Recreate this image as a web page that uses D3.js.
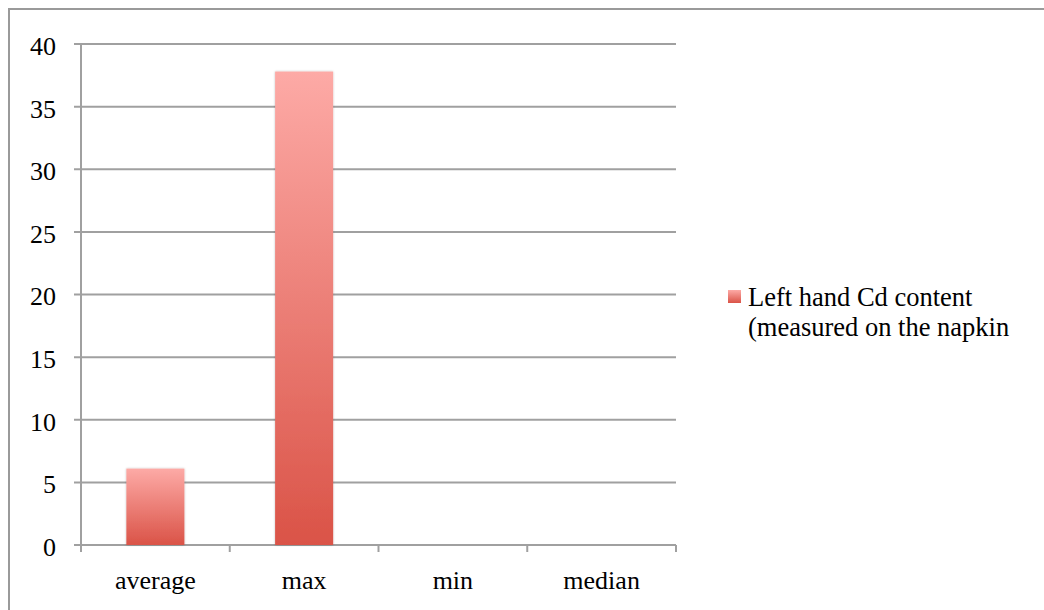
<!DOCTYPE html>
<html>
<head>
<meta charset="utf-8">
<script src="https://cdn.jsdelivr.net/npm/d3@7"></script>
<style>
  html, body { margin: 0; padding: 0; background: #ffffff; }
  svg { display: block; }
  text { font-family: "Liberation Serif", "Times New Roman", serif; fill: #000; }
</style>
</head>
<body>
<svg id="chart" width="1044" height="610"></svg>
<script>
// Cadmium content summary statistics
const categories = ["average", "max", "min", "median"];
const values = [6.1, 37.8, 0, 0];
const yTicks = [0, 5, 10, 15, 20, 25, 30, 35, 40];
const seriesName = ["Left hand Cd content", "(measured on the napkin"];

const svg = d3.select("#chart");

const margin = { left: 81, right: 676, top: 44, bottom: 545 };

const x = d3.scaleBand()
  .domain(categories)
  .range([margin.left, margin.right])
  .paddingInner(0.61)
  .paddingOuter(0.305);

const y = d3.scaleLinear()
  .domain([0, 40])
  .range([margin.bottom, margin.top]);

// Frame around the chart area
svg.append("path")
  .attr("d", "M9,610 L9,9 L1044,9")
  .attr("fill", "none")
  .attr("stroke", "#9a9a9a")
  .attr("stroke-width", 2);

// Bar fill: light pink at the top fading into a deeper red at the bottom
const defs = svg.append("defs");
const grad = defs.append("linearGradient")
  .attr("id", "barFill")
  .attr("x1", 0).attr("y1", 0).attr("x2", 0).attr("y2", 1);
grad.append("stop").attr("offset", "0%").attr("stop-color", "#fdaaa6");
grad.append("stop").attr("offset", "100%").attr("stop-color", "#da5347");

const shadow = defs.append("filter").attr("id", "soft")
  .attr("x", "-10%").attr("y", "-10%").attr("width", "120%").attr("height", "120%");
shadow.append("feGaussianBlur").attr("in", "SourceAlpha").attr("stdDeviation", 1.2).attr("result", "b");
shadow.append("feComponentTransfer").attr("in", "b").attr("result", "s")
  .append("feFuncA").attr("type", "linear").attr("slope", 0.25);
const merge = shadow.append("feMerge");
merge.append("feMergeNode").attr("in", "s");
merge.append("feMergeNode").attr("in", "SourceGraphic");

// Horizontal gridlines (with left tick marks)
svg.append("g")
  .selectAll("line")
  .data(yTicks)
  .join("line")
  .attr("x1", margin.left - 7)
  .attr("x2", margin.right)
  .attr("y1", d => y(d))
  .attr("y2", d => y(d))
  .attr("stroke", "#a0a0a0")
  .attr("stroke-width", 2);

// Y axis line
svg.append("line")
  .attr("x1", margin.left).attr("x2", margin.left)
  .attr("y1", y(40)).attr("y2", y(0))
  .attr("stroke", "#a0a0a0").attr("stroke-width", 2);

// Category tick marks at band boundaries
const bounds = categories.map(c => x(c) - x.step() * x.paddingInner() / 2);
bounds.push(margin.right);
bounds[0] = margin.left;
svg.append("g")
  .selectAll("line")
  .data(bounds)
  .join("line")
  .attr("x1", d => d).attr("x2", d => d)
  .attr("y1", y(0)).attr("y2", y(0) + 7)
  .attr("stroke", "#a0a0a0").attr("stroke-width", 2);

// Y tick labels
svg.append("g")
  .selectAll("text")
  .data(yTicks)
  .join("text")
  .attr("x", 56)
  .attr("y", d => y(d))
  .attr("dy", "0.42em")
  .attr("text-anchor", "end")
  .attr("font-size", 26)
  .text(d => d);

// Bars
svg.append("g")
  .selectAll("rect")
  .data(categories.map((c, i) => ({ c, v: values[i] })).filter(d => d.v > 0))
  .join("rect")
  .attr("x", d => x(d.c))
  .attr("width", x.bandwidth())
  .attr("y", d => y(d.v))
  .attr("height", d => y(0) - y(d.v))
  .attr("fill", "url(#barFill)")
  .attr("filter", "url(#soft)");

// Category labels
svg.append("g")
  .selectAll("text")
  .data(categories)
  .join("text")
  .attr("x", d => x(d) + x.bandwidth() / 2)
  .attr("y", 589)
  .attr("text-anchor", "middle")
  .attr("font-size", 26)
  .text(d => d);

// Legend
const legend = svg.append("g");
legend.append("rect")
  .attr("x", 728).attr("y", 290)
  .attr("width", 13).attr("height", 13)
  .attr("fill", "url(#barFill)");
legend.selectAll("text")
  .data(seriesName)
  .join("text")
  .attr("x", 748)
  .attr("y", (d, i) => 306 + i * 30)
  .attr("font-size", 26.5)
  .text(d => d);
</script>
</body>
</html>
